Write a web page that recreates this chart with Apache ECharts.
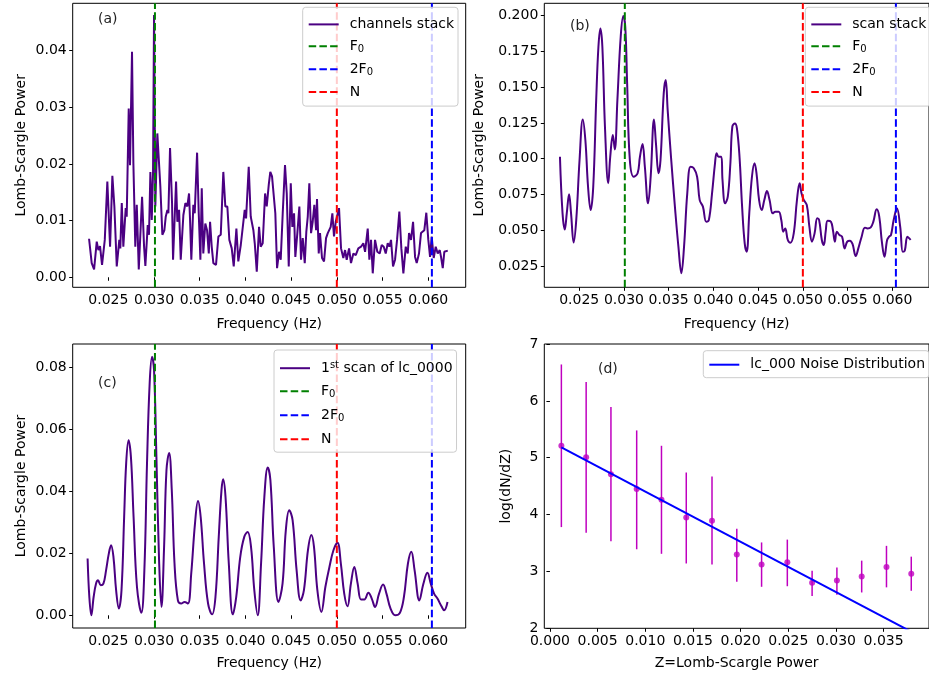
<!DOCTYPE html>
<html><head><meta charset="utf-8">
<script src="https://cdn.jsdelivr.net/npm/echarts@6/dist/echarts.min.js"></script>
<style>html,body{margin:0;padding:0;background:#fff}#c{width:929px;height:677px}</style>
</head><body><div id="c"></div><script>
// ---------- data ----------
const freqA = [0.02289,0.02318,0.02344,0.02373,0.02391,0.02409,0.02431,0.02461,0.02489,0.02519,
0.02544,0.02566,0.02592,0.02620,0.02631,0.02647,0.02664,0.02690,0.02701,0.02723,
0.02737,0.02759,0.02774,0.02795,0.02811,0.02833,0.02869,0.02891,0.02905,0.02931,
0.02945,0.02960,0.02975,0.02989,0.03000,0.03014,0.03036,0.03051,0.03069,0.03091,
0.03113,0.03128,0.03146,0.03157,0.03175,0.03197,0.03208,0.03241,0.03255,0.03274,
0.03292,0.03321,0.03343,0.03364,0.03383,0.03394,0.03408,0.03430,0.03445,0.03471,
0.03489,0.03507,0.03522,0.03539,0.03561,0.03580,0.03599,0.03613,0.03631,0.03649,
0.03678,0.03704,0.03730,0.03758,0.03780,0.03802,0.03824,0.03850,0.03872,0.03901,
0.03922,0.03949,0.03966,0.03992,0.04007,0.04036,0.04058,0.04087,0.04102,0.04124,
0.04149,0.04167,0.04189,0.04215,0.04233,0.04255,0.04272,0.04291,0.04305,0.04327,
0.04346,0.04368,0.04386,0.04408,0.04433,0.04452,0.04474,0.04496,0.04513,0.04532,
0.04546,0.04568,0.04590,0.04608,0.04627,0.04649,0.04666,0.04682,0.04699,0.04718,
0.04736,0.04754,0.04773,0.04783,0.04802,0.04816,0.04838,0.04860,0.04882,0.04901,
0.04915,0.04933,0.04951,0.04969,0.04988,0.05006,0.05024,0.05046,0.05071,0.05090,
0.05108,0.05134,0.05155,0.05181,0.05207,0.05235,0.05265,0.05290,0.05309,0.05338,
0.05356,0.05374,0.05393,0.05418,0.05443,0.05469,0.05491,0.05513,0.05535,0.05557,
0.05575,0.05593,0.05615,0.05637,0.05659,0.05684,0.05706,0.05728,0.05754,0.05776,
0.05790,0.05812,0.05834,0.05856,0.05874,0.05899,0.05921,0.05940,0.05957,0.05979,
0.06001,0.06020,0.06038,0.06060,0.06082,0.06104,0.06126,0.06140,0.06159,0.06176,
0.06214];
const powerA = [0.0068,0.0025,0.0014,0.0063,0.0048,0.0055,0.0022,0.0066,0.0169,0.0054,
0.0179,0.0125,0.0019,0.0066,0.0051,0.0131,0.0054,0.0122,0.0107,0.0298,
0.0198,0.0398,0.0201,0.0054,0.0128,0.0014,0.0142,0.0054,0.0020,0.0092,
0.0075,0.0186,0.0101,0.0184,0.0463,0.0125,0.0254,0.0254,0.0160,0.0075,
0.0083,0.0107,0.0119,0.0113,0.0228,0.0131,0.0031,0.0169,0.0098,0.0119,
0.0031,0.0110,0.0131,0.0125,0.0148,0.0101,0.0031,0.0128,0.0113,0.0220,
0.0113,0.0031,0.0157,0.0042,0.0095,0.0083,0.0042,0.0098,0.0054,0.0025,
0.0022,0.0072,0.0075,0.0186,0.0125,0.0125,0.0066,0.0051,0.0019,0.0086,
0.0028,0.0057,0.0060,0.0119,0.0104,0.0195,0.0107,0.0083,0.0060,0.0010,
0.0089,0.0054,0.0060,0.0148,0.0125,0.0163,0.0186,0.0178,0.0181,0.0113,
0.0016,0.0045,0.0031,0.0113,0.0198,0.0148,0.0019,0.0166,0.0089,0.0113,
0.0036,0.0078,0.0125,0.0031,0.0069,0.0025,0.0080,0.0107,0.0166,0.0078,
0.0098,0.0128,0.0083,0.0138,0.0042,0.0078,0.0034,0.0028,0.0069,0.0078,
0.0078,0.0089,0.0113,0.0072,0.0098,0.0101,0.0122,0.0051,0.0034,0.0048,
0.0031,0.0051,0.0025,0.0042,0.0039,0.0051,0.0054,0.0060,0.0045,0.0086,
0.0031,0.0066,0.0007,0.0066,0.0045,0.0042,0.0057,0.0054,0.0042,0.0060,
0.0054,0.0066,0.0019,0.0031,0.0066,0.0116,0.0051,0.0007,0.0054,0.0042,
0.0078,0.0066,0.0098,0.0036,0.0025,0.0042,0.0078,0.0080,0.0083,0.0114,
0.0066,0.0036,0.0072,0.0034,0.0054,0.0042,0.0048,0.0036,0.0016,0.0045,
0.0047];

const freqB = [0.02285,0.02314,0.02339,0.02361,0.02387,0.02409,0.02438,0.02467,0.02504,0.02540,
0.02569,0.02599,0.02628,0.02657,0.02690,0.02715,0.02737,0.02759,0.02788,0.02825,
0.02847,0.02876,0.02898,0.02927,0.02964,0.02993,0.03015,0.03036,0.03066,0.03109,
0.03153,0.03179,0.03208,0.03234,0.03270,0.03299,0.03336,0.03358,0.03387,0.03409,
0.03445,0.03467,0.03489,0.03526,0.03573,0.03609,0.03642,0.03672,0.03708,0.03745,
0.03781,0.03818,0.03847,0.03883,0.03920,0.03949,0.03985,0.04018,0.04036,0.04058,
0.04088,0.04102,0.04131,0.04161,0.04190,0.04212,0.04241,0.04263,0.04292,0.04321,
0.04350,0.04372,0.04401,0.04431,0.04460,0.04482,0.04511,0.04540,0.04569,0.04599,
0.04628,0.04664,0.04693,0.04730,0.04759,0.04781,0.04803,0.04832,0.04861,0.04898,
0.04934,0.04964,0.04985,0.05007,0.05044,0.05073,0.05102,0.05131,0.05161,0.05182,
0.05212,0.05234,0.05255,0.05277,0.05314,0.05336,0.05358,0.05380,0.05409,0.05438,
0.05467,0.05496,0.05526,0.05555,0.05591,0.05620,0.05657,0.05693,0.05723,0.05759,
0.05788,0.05825,0.05854,0.05883,0.05912,0.05942,0.05964,0.05985,0.06015,0.06051,
0.06088,0.06117,0.06139,0.06168,0.06190,0.06204];
const powerB = [0.1014,0.0618,0.0506,0.0618,0.0751,0.0618,0.0415,0.0571,0.0991,0.1275,
0.1131,0.0804,0.0641,0.0804,0.1410,0.1783,0.1911,0.1783,0.1224,0.0828,
0.1014,0.1166,0.1065,0.1410,0.1853,0.1998,0.1923,0.1527,0.0991,0.0874,
0.0898,0.1014,0.1103,0.0944,0.0688,0.0874,0.1275,0.1107,0.0898,0.0991,
0.1457,0.1550,0.1340,0.1014,0.0641,0.0385,0.0199,0.0385,0.0758,0.0944,
0.0933,0.0874,0.0711,0.0665,0.0560,0.0571,0.0758,0.0968,0.1038,0.1014,
0.1014,0.0851,0.0688,0.0735,0.0968,0.1224,0.1247,0.1212,0.1014,0.0665,
0.0408,0.0350,0.0618,0.0874,0.0968,0.0898,0.0711,0.0641,0.0711,0.0774,
0.0711,0.0618,0.0630,0.0630,0.0571,0.0490,0.0513,0.0432,0.0413,0.0478,
0.0711,0.0828,0.0758,0.0716,0.0676,0.0525,0.0420,0.0478,0.0583,0.0571,
0.0432,0.0397,0.0490,0.0567,0.0560,0.0502,0.0420,0.0490,0.0467,0.0455,
0.0373,0.0420,0.0427,0.0404,0.0320,0.0373,0.0455,0.0518,0.0513,0.0520,
0.0560,0.0646,0.0595,0.0420,0.0315,0.0432,0.0455,0.0467,0.0571,0.0653,
0.0525,0.0350,0.0357,0.0455,0.0443,0.0432];

const freqC = [0.02273,0.02292,0.02314,0.02339,0.02365,0.02387,0.02417,0.02446,0.02475,0.02505,
0.02530,0.02556,0.02585,0.02615,0.02644,0.02673,0.02695,0.02721,0.02747,0.02776,
0.02813,0.02861,0.02894,0.02923,0.02952,0.02978,0.03000,0.03026,0.03055,0.03081,
0.03110,0.03136,0.03165,0.03194,0.03224,0.03261,0.03297,0.03334,0.03371,0.03407,
0.03448,0.03481,0.03510,0.03547,0.03591,0.03635,0.03672,0.03708,0.03738,0.03756,
0.03782,0.03818,0.03862,0.03899,0.03943,0.03987,0.04024,0.04061,0.04097,0.04134,
0.04171,0.04207,0.04244,0.04273,0.04310,0.04361,0.04406,0.04442,0.04479,0.04516,
0.04560,0.04604,0.04640,0.04684,0.04721,0.04750,0.04787,0.04831,0.04875,0.04919,
0.04963,0.05007,0.05044,0.05081,0.05117,0.05154,0.05191,0.05228,0.05264,0.05301,
0.05345,0.05382,0.05418,0.05462,0.05506,0.05543,0.05587,0.05639,0.05690,0.05734,
0.05778,0.05815,0.05851,0.05903,0.05947,0.05991,0.06028,0.06064,0.06101,0.06145,
0.06174,0.06211];
const powerC = [0.0183,0.0059,0.0000,0.0059,0.0102,0.0113,0.0097,0.0102,0.0145,0.0199,
0.0226,0.0188,0.0081,0.0022,0.0081,0.0318,0.0490,0.0565,0.0511,0.0318,
0.0092,0.0008,0.0145,0.0490,0.0748,0.0834,0.0791,0.0511,0.0178,0.0027,
0.0221,0.0468,0.0524,0.0404,0.0167,0.0048,0.0038,0.0043,0.0038,0.0135,
0.0296,0.0369,0.0318,0.0167,0.0038,0.0003,0.0059,0.0253,0.0404,0.0439,
0.0382,0.0167,0.0003,0.0059,0.0188,0.0253,0.0269,0.0221,0.0081,0.0000,
0.0167,0.0382,0.0477,0.0436,0.0221,0.0043,0.0102,0.0275,0.0339,0.0307,
0.0145,0.0048,0.0081,0.0210,0.0259,0.0221,0.0081,0.0011,0.0092,0.0156,
0.0210,0.0234,0.0167,0.0070,0.0029,0.0102,0.0156,0.0102,0.0051,0.0051,
0.0073,0.0054,0.0027,0.0070,0.0099,0.0070,0.0022,0.0000,0.0008,0.0059,
0.0167,0.0205,0.0145,0.0048,0.0102,0.0137,0.0102,0.0070,0.0054,0.0029,
0.0016,0.0043];

// reference frequencies (Hz)
const F0 = 0.0301, F2 = 0.0604, NYQ = 0.050;

// panel (d) noise distribution
const zPower = [0.0012,0.0038,0.0064,0.0091,0.0117,0.0143,0.0170,0.0196,0.0222,0.0249,0.0275,0.0301,0.0327,0.0353,0.0379];
const logDN  = [5.21,5.01,4.71,4.45,4.26,3.95,3.89,3.30,3.12,3.16,2.80,2.84,2.91,3.08,2.96];
const errLow = [3.78,3.68,3.53,3.39,3.31,3.14,3.12,2.82,2.73,2.74,2.57,2.59,2.63,2.72,2.66];
const errHigh= [6.64,6.33,5.89,5.48,5.21,4.74,4.67,3.75,3.51,3.56,3.01,3.07,3.19,3.45,3.26];
const fitZ = [0.0012, 0.0379];
const fitLog = [5.18, 1.94];

// tick labels
const xTicksF = [0.025,0.030,0.035,0.040,0.045,0.050,0.055,0.060];
const xTicksZ = [0.000,0.005,0.010,0.015,0.020,0.025,0.030,0.035];
const yTicksA = [0.00,0.01,0.02,0.03,0.04];
const yTicksB = [0.025,0.050,0.075,0.100,0.125,0.150,0.175,0.200];
const yTicksC = [0.00,0.02,0.04,0.06,0.08];
const yTicksD = [2,3,4,5,6,7];

// ---------- chart ----------
const FONT = '"DejaVu Sans", sans-serif';
const LINE = '#4b0082';
const zip = (a, b) => a.map((v, i) => [v, b[i]]);
const lim = {
  fx: [0.0211, 0.0641],
  a: [-0.00177, 0.04837],
  b: [0.01011, 0.20867],
  c: [-0.0041, 0.08753],
  d: [2, 7],
  zx: [-0.00059, 0.03976]
};

function ax(gi, mm, ticks, dig, name, gap) {
  return {type:'value', gridIndex:gi, min:mm[0], max:mm[1],
    axisLine:{show:false}, splitLine:{show:false},
    axisTick:{show:true, length:3.5, lineStyle:{color:'#000', width:1}, customValues:ticks},
    axisLabel:{customValues:ticks, formatter:v=>Number(v).toFixed(dig), fontSize:14, color:'#000', fontFamily:FONT, margin:6},
    name:name, nameLocation:'middle', nameGap:gap,
    nameTextStyle:{fontSize:14, color:'#000', fontFamily:FONT}};
}

function vline(name, x, gi, yl, color) {
  return {type:'line', name:name, xAxisIndex:gi, yAxisIndex:gi, data:[[x, yl[0]],[x, yl[1]]],
    symbol:'none', silent:true, z:3,
    lineStyle:{color:color, width:2, type:[7.5,3.2]}, itemStyle:{color:color}};
}

const rich = {
  n:{fontSize:14, fontFamily:FONT, color:'#000', padding:[0,0,0,6], lineHeight:16},
  m:{fontSize:14, fontFamily:FONT, color:'#000', lineHeight:16},
  sub:{fontSize:10, fontFamily:FONT, color:'#000', verticalAlign:'bottom', lineHeight:8},
  sup:{fontSize:10, fontFamily:FONT, color:'#000', verticalAlign:'top', lineHeight:8}
};
const labels = {
  'channels stack':'{n|channels stack}',
  'scan stack':'{n|scan stack}',
  'first scan':'{n|1}{sup|st}{m| scan of lc_0000}',
  'F0':'{n|F}{sub|0}',
  '2F0':'{n|2F}{sub|0}',
  'N':'{n|N}',
  'lc_000 Noise Distribution':'{n|lc_000 Noise Distribution}'
};
function leg(data, left, top, pad, gap) {
  return {data:data, orient:'vertical', left:left, top:top, itemWidth:30, itemHeight:14, itemGap:gap,
    itemStyle:{opacity:0, borderWidth:0},
    lineStyle:{width:2},
    padding:pad, backgroundColor:'rgba(255,255,255,0.8)', borderColor:'#cccccc', borderWidth:1, borderRadius:3,
    selectedMode:false, formatter:n=>labels[n], textStyle:{fontSize:14, fontFamily:FONT, color:'#000', rich:rich}};
}

const chart = echarts.init(document.getElementById('c'), null, {renderer:'canvas'});
const gridBase = {show:true, borderColor:'#000', borderWidth:1, backgroundColor:'transparent', containLabel:false};
chart.setOption({
  animation:false,
  backgroundColor:'#fff',
  grid:[
    Object.assign({left:72.7, top:3.3, width:393, height:284}, gridBase),
    Object.assign({left:544.3, top:3.3, width:393, height:284}, gridBase),
    Object.assign({left:72.7, top:344, width:393, height:284}, gridBase),
    Object.assign({left:544.3, top:344, width:393, height:284.3}, gridBase)
  ],
  xAxis:[
    ax(0, lim.fx, xTicksF, 3, 'Frequency (Hz)', 30),
    ax(1, lim.fx, xTicksF, 3, 'Frequency (Hz)', 30),
    ax(2, lim.fx, xTicksF, 3, 'Frequency (Hz)', 28),
    ax(3, lim.zx, xTicksZ, 3, 'Z=Lomb-Scargle Power', 28)
  ],
  yAxis:[
    ax(0, lim.a, yTicksA, 2, 'Lomb-Scargle Power', 44),
    ax(1, lim.b, yTicksB, 3, 'Lomb-Scargle Power', 58),
    ax(2, lim.c, yTicksC, 2, 'Lomb-Scargle Power', 44),
    ax(3, lim.d, yTicksD, 0, 'log(dN/dZ)', 31)
  ],
  legend:[
    leg(['channels stack','F0','2F0','N'], 302.7, 7.3, [10.1,4,7,5], 7.9),
    leg(['scan stack','F0','2F0','N'], 805.3, 7.3, [10.1,4,7,5], 7.9),
    leg(['first scan','F0','2F0','N'], 274, 350, [10.2,4,6,5], 9),
    leg(['lc_000 Noise Distribution'], 703.3, 350.7, [7,4,6,5], 6)
  ],
  graphic:[
    {type:'text', x:98, y:19, style:{text:'(a)', fontSize:14, fontFamily:FONT, fill:'#222', verticalAlign:'middle'}},
    {type:'text', x:570, y:26, style:{text:'(b)', fontSize:14, fontFamily:FONT, fill:'#222', verticalAlign:'middle'}},
    {type:'text', x:98, y:383, style:{text:'(c)', fontSize:14, fontFamily:FONT, fill:'#222', verticalAlign:'middle'}},
    {type:'text', x:598, y:369, style:{text:'(d)', fontSize:14, fontFamily:FONT, fill:'#222', verticalAlign:'middle'}}
  ],
  series:[
    {type:'line', name:'channels stack', xAxisIndex:0, yAxisIndex:0, data:zip(freqA, powerA), symbol:'none', z:2,
      lineStyle:{color:LINE, width:2}, itemStyle:{color:LINE}},
    vline('F0', F0, 0, lim.a, '#008000'),
    vline('2F0', F2, 0, lim.a, '#0000ff'),
    vline('N', NYQ, 0, lim.a, '#ff0000'),

    {type:'line', name:'scan stack', xAxisIndex:1, yAxisIndex:1, data:zip(freqB, powerB), symbol:'none', z:2, smooth:0.4,
      lineStyle:{color:LINE, width:2}, itemStyle:{color:LINE}},
    vline('F0', F0, 1, lim.b, '#008000'),
    vline('2F0', F2, 1, lim.b, '#0000ff'),
    vline('N', NYQ, 1, lim.b, '#ff0000'),

    {type:'line', name:'first scan', xAxisIndex:2, yAxisIndex:2, data:zip(freqC, powerC), symbol:'none', z:2, smooth:0.4,
      lineStyle:{color:LINE, width:2}, itemStyle:{color:LINE}},
    vline('F0', F0, 2, lim.c, '#008000'),
    vline('2F0', F2, 2, lim.c, '#0000ff'),
    vline('N', NYQ, 2, lim.c, '#ff0000'),

    {type:'custom', name:'errors', xAxisIndex:3, yAxisIndex:3, silent:true, z:2,
      data:zPower.map((z,i)=>[z, errLow[i], errHigh[i]]),
      encode:{x:0, y:[1,2]},
      renderItem:function(params, api){
        const p1 = api.coord([api.value(0), api.value(1)]);
        const p2 = api.coord([api.value(0), api.value(2)]);
        return {type:'line', shape:{x1:p1[0], y1:p1[1], x2:p2[0], y2:p2[1]}, style:{stroke:'#bf00bf', lineWidth:1.5}};
      }},
    {type:'scatter', name:'points', xAxisIndex:3, yAxisIndex:3, data:zip(zPower, logDN), symbol:'circle', symbolSize:6, z:3,
      itemStyle:{color:'#bf00bf'}},
    {type:'line', name:'lc_000 Noise Distribution', xAxisIndex:3, yAxisIndex:3, data:zip(fitZ, fitLog), symbol:'none', z:4,
      lineStyle:{color:'#0000ff', width:2}, itemStyle:{color:'#0000ff'}}
  ]
});
</script></body></html>
